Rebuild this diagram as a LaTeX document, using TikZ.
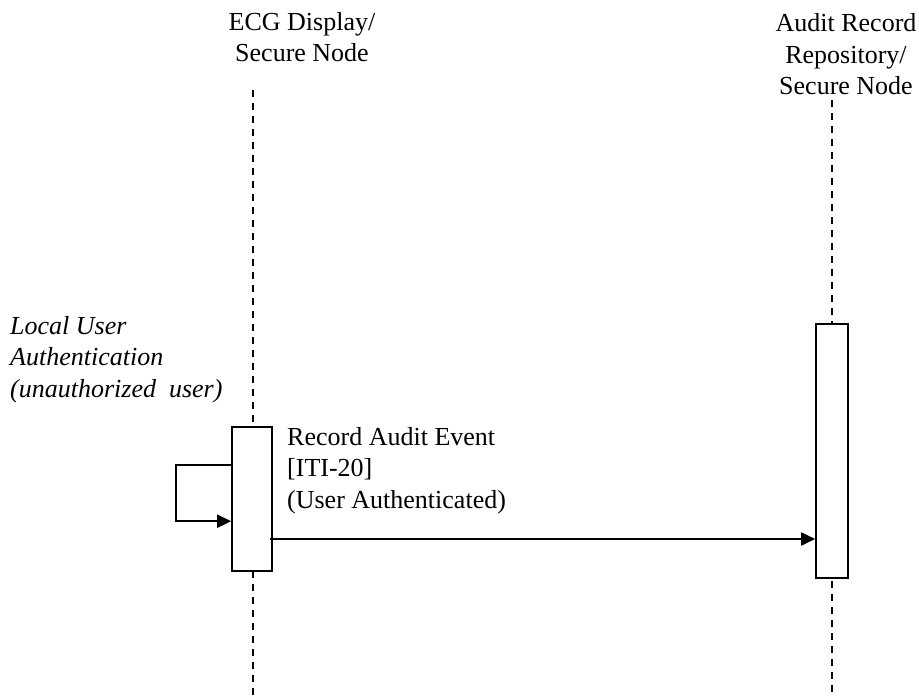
\documentclass[tikz,border=0pt]{standalone}
\usepackage{fontspec}
\setmainfont{Liberation Serif}
\usetikzlibrary{arrows.meta}

\begin{document}
\begin{tikzpicture}[x=1pt, y=-1pt,
  lifeline/.style={line width=1.4pt, dash pattern=on 7pt off 6pt},
  activation/.style={draw, fill=white, line width=1.6pt, inner sep=0pt},
  msg/.style={line width=1.8pt, -{Triangle[length=14pt,width=13pt]}},
  lbl/.style={align=left, inner sep=0pt, font=\fontsize{26}{31.5}\selectfont}]
\useasboundingbox (0,0) rectangle (919,698);
\node[lbl, align=center, anchor=base] (ecg) at (302,62) {ECG Display/\\Secure Node};
\node[lbl, align=center, anchor=base] (arr) at (846,95) {Audit Record\\Repository/\\Secure Node};
\coordinate (ecgtop) at (253,90);
\coordinate (ecgend) at (253,698);
\coordinate (arrtop) at (832,100);
\coordinate (arrend) at (832,698);
\draw[lifeline] (ecgtop) -- (ecgend);
\draw[lifeline] (arrtop) -- (arrend);
\node[activation, minimum width=40pt, minimum height=144pt] (box1) at (252,499) {};
\node[activation, minimum width=32pt, minimum height=254pt] (box2) at (832,451) {};
\node[lbl, anchor=base west, font=\fontsize{26}{31.5}\selectfont\itshape] (auth) at (10,397) {Local User\\Authentication\\(unauthorized\ \ user)};
\node[lbl, anchor=base west] (rec) at (287,508) {Record Audit Event\\{[ITI-20]}\\(User Authenticated)};
\draw[msg] ([yshift=-39pt]box1.north west) -- ++(-55,0) -- ++(0,56) -- ([yshift=-95pt]box1.north west);
\draw[msg] ([xshift=-3pt,yshift=-40pt]box1.east) -- ([yshift=-40pt]box1.east -| box2.west);
\end{tikzpicture}
\end{document}
